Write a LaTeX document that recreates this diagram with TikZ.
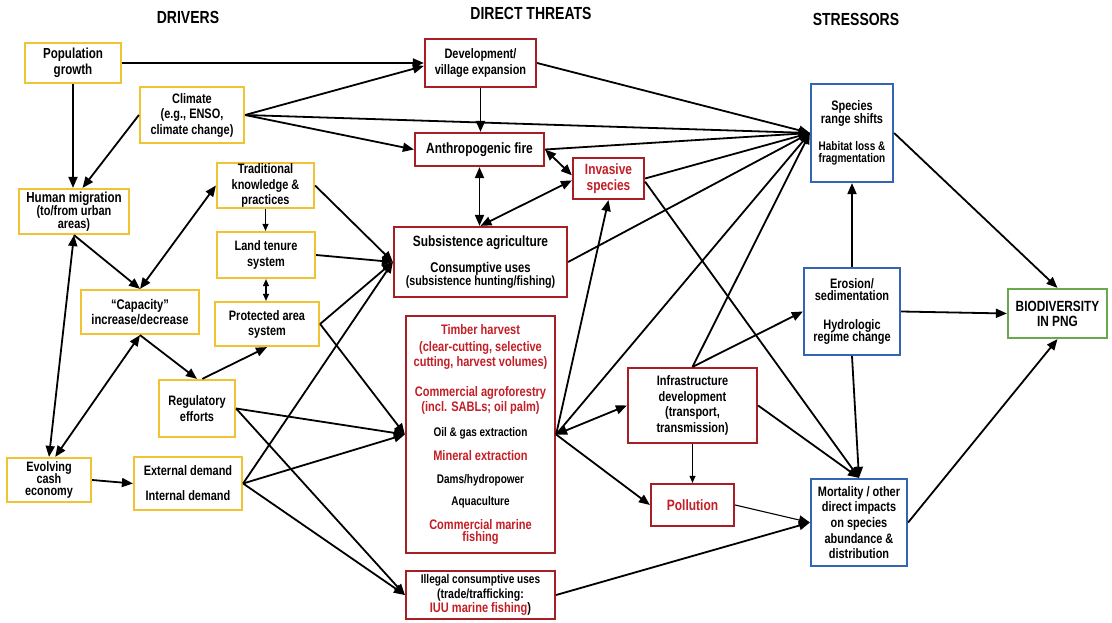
\documentclass[tikz,border=0pt]{standalone}
\usepackage{fontspec}
\setmainfont{Liberation Sans}[FakeStretch=0.8]
\usetikzlibrary{arrows.meta}
\definecolor{ygold}{HTML}{F1C232}
\definecolor{rbord}{HTML}{A51F24}
\definecolor{rtext}{HTML}{C41E26}
\definecolor{bbord}{HTML}{3465B4}
\definecolor{gbord}{HTML}{6AA84F}
\newcommand{\myfs}[2]{\fontsize{#1}{#2}\selectfont\lineskiplimit=-20pt\relax}
\tikzset{
  box/.style={fill=white, line width=2.2pt, align=center, inner sep=0pt},
  yb/.style={box, draw=ygold},
  rb/.style={box, draw=rbord},
  bb/.style={box, draw=bbord},
  gb/.style={box, draw=gbord},
  sz/.style 2 args={minimum width=#1pt, minimum height=#2pt},
  title/.style={font=\bfseries\myfs{17.5}{19}},
  ar/.style={line width=1.8pt, -{Triangle[length=11pt,width=9pt]}},
  dar/.style={line width=1.8pt, {Triangle[length=11pt,width=9pt]}-{Triangle[length=11pt,width=9pt]}},
  tar/.style={line width=1.1pt, -{Triangle[length=7pt,width=6pt]}},
  tdar/.style={line width=1.1pt, {Triangle[length=7pt,width=6pt]}-{Triangle[length=7pt,width=6pt]}},
  tbar/.style={line width=1.1pt, -{Triangle[length=11pt,width=9pt]}},
}
\begin{document}
\begin{tikzpicture}[x=1pt,y=-1pt]
\useasboundingbox (0,0) rectangle (1112,623);
% titles
\node[title] (t1) at (188,17) {DRIVERS};
\node[title] (t2) at (531,13) {DIRECT THREATS};
\node[title] (t3) at (856,19) {STRESSORS};
% drivers
\node[yb, sz={96}{40}, font=\bfseries\myfs{14.5}{16.5}] (pop) at (73,63) {Population\\growth};
\node[yb, sz={104}{56}, font=\bfseries\myfs{13.7}{15.5}] (cl) at (192,115) {Climate\\(e.g., ENSO,\\climate change)};
\node[yb, sz={110}{45}, font=\bfseries\myfs{13.7}{12.9}] (hm) at (74,211.5) {{\myfs{14.5}{12.9}Human migration}\\(to/from urban\\areas)};
\node[yb, sz={97}{45}, font=\bfseries\myfs{13.7}{15.5}] (tk) at (265.5,185.5) {Traditional\\knowledge \&\\practices};
\node[yb, sz={98}{46}, font=\bfseries\myfs{13.7}{16}] (lt) at (266,255) {Land tenure\\system};
\node[yb, sz={118}{44}, font=\bfseries\myfs{14}{14.7}] (cap) at (140,312) {“Capacity”\\increase/decrease};
\node[yb, sz={104}{44}, font=\bfseries\myfs{13.7}{15}] (pa) at (267,324) {Protected area\\system};
\node[yb, sz={76}{57}, font=\bfseries\myfs{13.7}{15.7}] (reg) at (197,408.5) {Regulatory\\efforts};
\node[yb, sz={84}{44}, font=\bfseries\myfs{13.6}{11.8}] (ev) at (49,480) {Evolving\\cash\\economy};
\node[yb, sz={108}{53}, font=\bfseries\myfs{13.7}{15}] (dem) at (188,483.5) {External demand\\[10pt]Internal demand};
% direct threats
\node[rb, sz={111}{48}, font=\bfseries\myfs{13.7}{16}] (dev) at (480.5,63) {Development/\\village expansion};
\node[rb, sz={129}{33}, font=\bfseries\myfs{14.9}{15}] (fire) at (479.5,149.5) {Anthropogenic fire};
\node[rb, sz={71}{41}, text=rtext, font=\bfseries\myfs{14.9}{16}] (inv) at (608.5,178.5) {Invasive\\species};
\node[rb, sz={173}{70}, font=\bfseries\myfs{14.1}{12.5}] (sub) at (480.5,262) {{\myfs{14.9}{12.5}Subsistence agriculture}\\[13.5pt]Consumptive uses\\{\myfs{13.4}{12.5}(subsistence hunting/fishing)}};
\node[rb, sz={149}{237}, text=rtext, font=\bfseries\myfs{13.8}{15}] (tim) at (480.5,434.5) {Timber harvest\\[2pt]
(clear-cutting, selective\\
cutting, harvest volumes)\\[15pt]
Commercial agroforestry\\
(incl. SABLs; oil palm)\\[10pt]
{\color{black}\myfs{12.5}{15}Oil \& gas extraction}\\[9pt]
Mineral extraction\\[8pt]
{\color{black}\myfs{12.5}{15}Dams/hydropower}\\[7pt]
{\color{black}\myfs{12.5}{15}Aquaculture}\\[9pt]
Commercial marine\\[-3pt]
fishing};
\node[rb, sz={149}{48}, font=\bfseries\myfs{12.6}{14.3}] (ill) at (480.5,595) {Illegal consumptive uses\\{\myfs{13.2}{14.3}(trade/trafficking:}\\{\myfs{13.8}{14.3}\textcolor{rtext}{IUU marine fishing})}};
\node[rb, sz={129}{75}, font=\bfseries\myfs{13.7}{15.7}] (inf) at (692.5,405.5) {Infrastructure\\development\\(transport,\\transmission)};
\node[rb, sz={83}{42}, text=rtext, font=\bfseries\myfs{15}{15}] (pol) at (692.5,505) {Pollution};
% stressors
\node[bb, sz={82}{98}, font=\bfseries\myfs{13.7}{12.6}] (sp) at (852,133) {Species\\range shifts\\[14.5pt]{\myfs{12.5}{12}Habitat loss \&}\\{\myfs{12.5}{12}fragmentation}};
\node[bb, sz={96}{87}, font=\bfseries\myfs{13.7}{12.6}] (ero) at (852,311.5) {Erosion/\\sedimentation\\[15.5pt]Hydrologic\\regime change};
\node[bb, sz={96}{87}, font=\bfseries\myfs{13.7}{15.7}] (mor) at (859,522.5) {Mortality / other\\direct impacts\\on species\\abundance \&\\distribution};
\node[gb, sz={99}{49}, font=\bfseries\myfs{14.8}{15}] (bio) at (1057.5,313.5) {BIODIVERSITY\\IN PNG};
% connectors: drivers
\draw[ar] (pop.east) -- (dev.west);
\draw[ar] (pop.south) -- (pop.south |- hm.north);
\draw[ar] (cl.west) -- (hm.70);
\draw[ar] (cl.east) -- (dev.183);
\draw[ar] (cl.east) -- (fire.west);
\draw[ar] (cl.east) -- (sp.west);
\draw[dar] (hm.south) -- (ev.north);
\draw[ar] (hm.south) -- (cap.north);
\draw[dar] (cap.north) -- (tk.west);
\draw[dar] (cap.south) -- (ev.75);
\draw[ar] (cap.south) -- (reg.north);
\draw[ar] (reg.80) -- (pa.south);
\draw[tar] (tk.south) -- (tk.south |- lt.north);
\draw[tdar] (lt.south) -- (lt.south |- pa.north);
\draw[ar] (tk.east) -- (sub.west);
\draw[ar] (lt.east) -- (sub.west);
\draw[ar] (pa.east) -- (sub.west);
\draw[ar] (pa.east) -- (tim.west);
\draw[ar] (reg.east) -- (tim.west);
\draw[ar] (reg.east) -- (ill.west);
\draw[ar] (dem.east) -- (sub.west);
\draw[ar] (dem.east) -- (tim.west);
\draw[ar] (dem.east) -- (ill.west);
\draw[ar] (ev.east) -- (dem.west);
% connectors: direct threats
\draw[ar] (dev.south) -- (dev.south |- fire.north);
\draw[ar] (dev.east) -- (sp.west);
\draw[ar] (fire.east) -- (sp.west);
\draw[dar] (fire.east) -- (inv.175);
\draw[dar] (fire.south) -- (fire.south |- sub.north);
\draw[dar] (sub.north) -- (inv.183);
\draw[ar] (inv.east) -- (sp.west);
\draw[ar] (inv.-5) -- (mor.north);
\draw[ar] (sub.east) -- (sp.west);
\draw[ar] (tim.east) -- (inv.south);
\draw[ar] (tim.east) -- (sp.west);
\draw[ar] (tim.east) -- (pol.west);
\draw[dar] (inf.west) -- (tim.east);
\draw[ar] (inf.north) -- (sp.west);
\draw[ar] (inf.north) -- (ero.west);
\draw[tar] (inf.south) -- (inf.south |- pol.north);
\draw[ar] (inf.east) -- (mor.north);
\draw[tbar] (pol.east) -- (mor.west);
\draw[ar] (ill.east) -- (mor.west);
% connectors: stressors
\draw[ar] (ero.east) -- (bio.west);
\draw[ar] (ero.north) -- (sp.south);
\draw[ar] (ero.south) -- (mor.north);
\draw[ar] (sp.east) -- (bio.north);
\draw[ar] (mor.east) -- (bio.south);
\end{tikzpicture}
\end{document}
